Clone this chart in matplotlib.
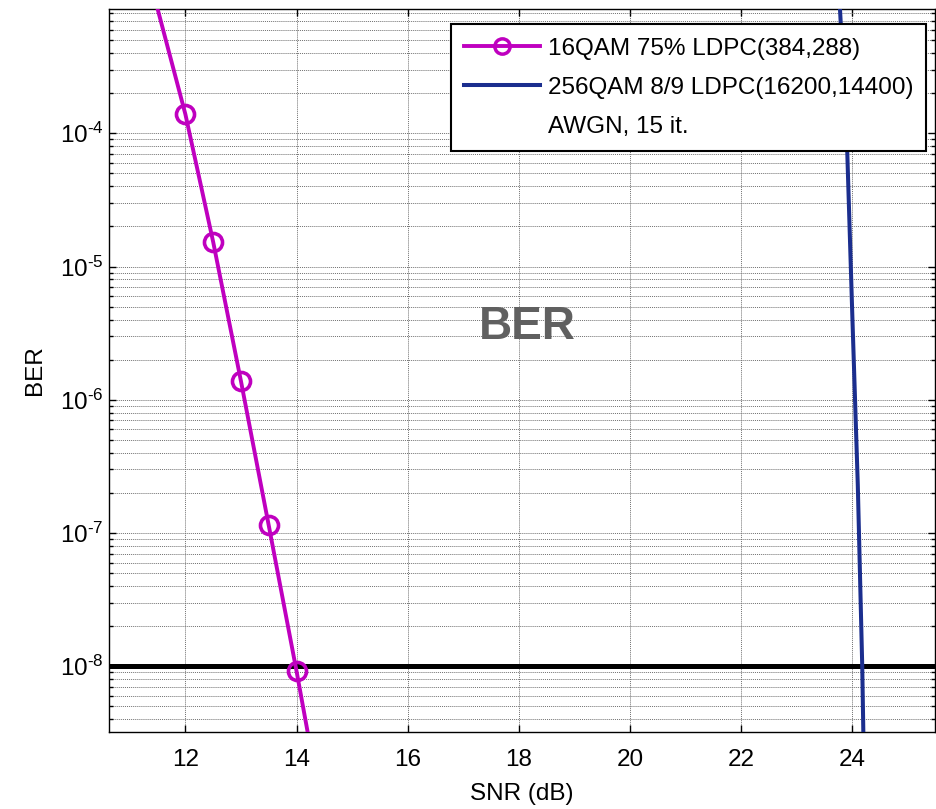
import numpy as np
import matplotlib
matplotlib.use("Agg")
import matplotlib.pyplot as plt
from matplotlib.lines import Line2D
from matplotlib.ticker import LogLocator, NullFormatter, FuncFormatter

plt.rcParams["font.family"] = ["Liberation Sans", "DejaVu Sans"]
plt.rcParams["mathtext.fontset"] = "custom"
plt.rcParams["mathtext.rm"] = "Liberation Sans"
plt.rcParams["mathtext.it"] = "Liberation Sans:italic"
plt.rcParams["mathtext.bf"] = "Liberation Sans:bold"

# ── Data ────────────────────────────────────────────────────────────────────
snr_16qam = [11.0, 12.0, 12.5, 13.0, 13.5, 14.0, 14.5]
ber_16qam = [5.3e-3, 1.39e-4, 1.53e-5, 1.38e-6, 1.14e-7, 9.2e-9, 6.6e-10]
marker_idx = [1, 2, 3, 4, 5]   # simulated points shown with circles

snr_256qam = [23.75, 23.9, 24.0, 24.1, 24.18, 24.22]
ber_256qam = [1.45e-3, 1.0e-4, 4.5e-6, 2.3e-7, 1.0e-8, 1.0e-9]

target_ber = 1e-8
x_ticks = [12, 14, 16, 18, 20, 22, 24]
labels = ["16QAM 75% LDPC(384,288)", "256QAM 8/9 LDPC(16200,14400)", "AWGN, 15 it."]

MAGENTA = "#BF00BF"
NAVY = "#1B2E8E"


def pow10_label(v, _):
    # MATLAB-style label with a plain hyphen in the exponent
    exp = int(round(np.log10(v)))
    return r"$10^{\text{%d}}$" % exp


fig = plt.figure(figsize=(9.37, 8.09), dpi=100)
ax = fig.add_axes([0.1163, 0.0952, 0.8816, 0.8937])

ax.plot(snr_16qam, ber_16qam, color=MAGENTA, linewidth=2.8, zorder=4)
ax.plot([snr_16qam[i] for i in marker_idx], [ber_16qam[i] for i in marker_idx],
        linestyle="none", marker="o", markersize=13, markerfacecolor="none",
        markeredgecolor=MAGENTA, markeredgewidth=2.6, zorder=5)
ax.plot(snr_256qam, ber_256qam, color=NAVY, linewidth=2.9, zorder=4)
ax.axhline(target_ber, color="black", linewidth=3.6, zorder=3)

ax.set_yscale("log")
ax.set_xlim(10.625, 25.49)
ax.set_ylim(3.21e-9, 8.57e-4)
ax.set_xticks(x_ticks)
ax.yaxis.set_major_locator(LogLocator(base=10, numticks=20))
ax.yaxis.set_major_formatter(FuncFormatter(pow10_label))
ax.yaxis.set_minor_locator(LogLocator(base=10, subs=np.arange(2, 10), numticks=20))
ax.yaxis.set_minor_formatter(NullFormatter())

ax.grid(True, which="major", color="#707070", linestyle=(0, (1, 1)), linewidth=0.7)
ax.grid(True, which="minor", axis="y", color="#707070", linestyle=(0, (1, 1)), linewidth=0.7)
ax.set_axisbelow(True)

ax.tick_params(which="both", direction="in", top=True, right=True,
               labelsize=17.5, colors="black")
ax.tick_params(which="major", length=5, width=1)
ax.tick_params(which="minor", length=3, width=1)
ax.tick_params(axis="x", which="major", pad=12)
ax.tick_params(axis="y", which="major", pad=4)
for sp in ax.spines.values():
    sp.set_linewidth(1.0)

ax.set_xlabel("SNR (dB)", fontsize=17.5, labelpad=9)
ax.set_ylabel("BER", fontsize=17.5, labelpad=10)

ax.text(0.506, 0.560, "BER", transform=ax.transAxes, ha="center", va="center",
        fontsize=33, fontweight="bold", color="#606060", zorder=6)

handles = [
    Line2D([], [], color=MAGENTA, linewidth=2.8, marker="o", markersize=11,
           markerfacecolor="none", markeredgewidth=2.5),
    Line2D([], [], color=NAVY, linewidth=2.9),
    Line2D([], [], linestyle="none"),
]
leg = ax.legend(handles, labels, loc="upper right", bbox_to_anchor=(0.9896, 0.979),
                borderaxespad=0, fontsize=17.5, handlelength=3.1, handletextpad=0.33,
                labelspacing=0.7, borderpad=0.55, fancybox=False, framealpha=1,
                edgecolor="black")
leg.get_frame().set_linewidth(1.5)
leg.set_zorder(10)

fig.savefig("out.png", dpi=100)
